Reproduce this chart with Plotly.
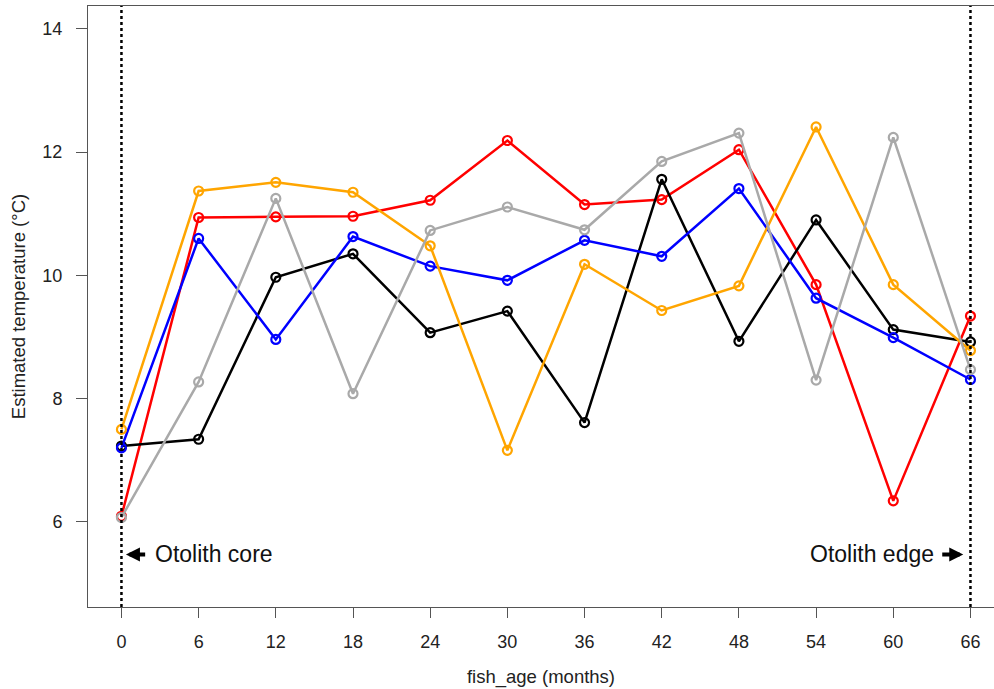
import plotly.graph_objects as go

# Fish age at each otolith sampling step (months)
fish_age = [0, 6, 12, 18, 24, 30, 36, 42, 48, 54, 60, 66]

# Estimated temperature (°C) for each individual fish
temp_red = [6.09, 10.94, 10.95, 10.96, 11.22, 12.19, 11.15, 11.23, 12.04, 9.85, 6.34, 9.34]
temp_black = [7.23, 7.34, 9.97, 10.35, 9.07, 9.42, 7.61, 11.56, 8.93, 10.90, 9.12, 8.92]
temp_blue = [7.20, 10.60, 8.96, 10.63, 10.15, 9.92, 10.57, 10.31, 11.41, 9.63, 8.99, 8.31]
temp_orange = [7.50, 11.37, 11.51, 11.35, 10.48, 7.16, 10.18, 9.43, 9.83, 12.41, 9.85, 8.78]
temp_gray = [6.07, 8.27, 11.25, 8.08, 10.73, 11.11, 10.74, 11.85, 12.31, 8.30, 12.24, 8.47]

x_ticks = [0, 6, 12, 18, 24, 30, 36, 42, 48, 54, 60, 66]
y_ticks = [6, 8, 10, 12, 14]

FONT = "Liberation Sans, Arial, sans-serif"
AXIS_COLOR = "#555555"

series = [
    (temp_red, "#ff0000"),
    (temp_black, "#000000"),
    (temp_blue, "#0000ff"),
    (temp_orange, "#ffa500"),
    (temp_gray, "#a9a9a9"),
]

fig = go.Figure()
for values, color in series:
    fig.add_trace(go.Scatter(
        x=fish_age, y=values, mode="lines+markers",
        line=dict(color=color, width=2.5),
        marker=dict(symbol="circle-open", size=9, color=color, line=dict(width=2.2, color=color)),
        showlegend=False, hoverinfo="x+y",
    ))

# Dotted guides at the otolith core and edge
for xv in (fish_age[0], fish_age[-1]):
    fig.add_shape(type="line", xref="x", yref="paper", x0=xv, x1=xv, y0=0, y1=1,
                  line=dict(color="black", width=2.5, dash="dot"), layer="above")

label_y = 5.47
fig.add_annotation(x=0.35, y=label_y, ax=1.96, ay=label_y, axref="x", ayref="y",
                   xref="x", yref="y", text="", showarrow=True,
                   arrowhead=2, arrowsize=0.7, arrowwidth=4, arrowcolor="black")
fig.add_annotation(x=2.45, y=label_y, xref="x", yref="y", text="Otolith core",
                   showarrow=False, xanchor="left", yanchor="middle",
                   font=dict(family=FONT, size=23, color="#111111"))
fig.add_annotation(x=65.44, y=label_y, ax=63.69, ay=label_y, axref="x", ayref="y",
                   xref="x", yref="y", text="", showarrow=True,
                   arrowhead=2, arrowsize=0.7, arrowwidth=4, arrowcolor="black")
fig.add_annotation(x=63.32, y=label_y, xref="x", yref="y", text="Otolith edge",
                   showarrow=False, xanchor="right", yanchor="middle",
                   font=dict(family=FONT, size=23, color="#111111"))

fig.update_layout(
    width=994, height=689,
    margin=dict(l=88, r=0, t=6, b=82),
    paper_bgcolor="white", plot_bgcolor="white",
    font=dict(family=FONT, size=18, color="#222222"),
)
fig.update_xaxes(
    range=[-2.60, 67.83], tickvals=x_ticks, ticktext=[str(v) for v in x_ticks],
    showgrid=False, zeroline=False,
    showline=True, linecolor=AXIS_COLOR, linewidth=1, mirror=True,
    ticks="outside", ticklen=10, tickcolor=AXIS_COLOR, tickwidth=1,
    ticklabelstandoff=8,
    tickfont=dict(family=FONT, size=18, color="#222222"),
    title=dict(text="fish_age (months)", font=dict(family=FONT, size=18.5, color="#222222"), standoff=19),
)
fig.update_yaxes(
    range=[4.617, 14.373], tickvals=y_ticks, ticktext=[str(v) for v in y_ticks],
    showgrid=False, zeroline=False,
    showline=True, linecolor=AXIS_COLOR, linewidth=1, mirror=False,
    ticks="outside", ticklen=11, tickcolor=AXIS_COLOR, tickwidth=1,
    ticklabelstandoff=10,
    tickfont=dict(family=FONT, size=18, color="#222222"),
    title=dict(text="Estimated temperature (°C)", font=dict(family=FONT, size=18.5, color="#222222"), standoff=11),
)

fig.write_html("out.html")
